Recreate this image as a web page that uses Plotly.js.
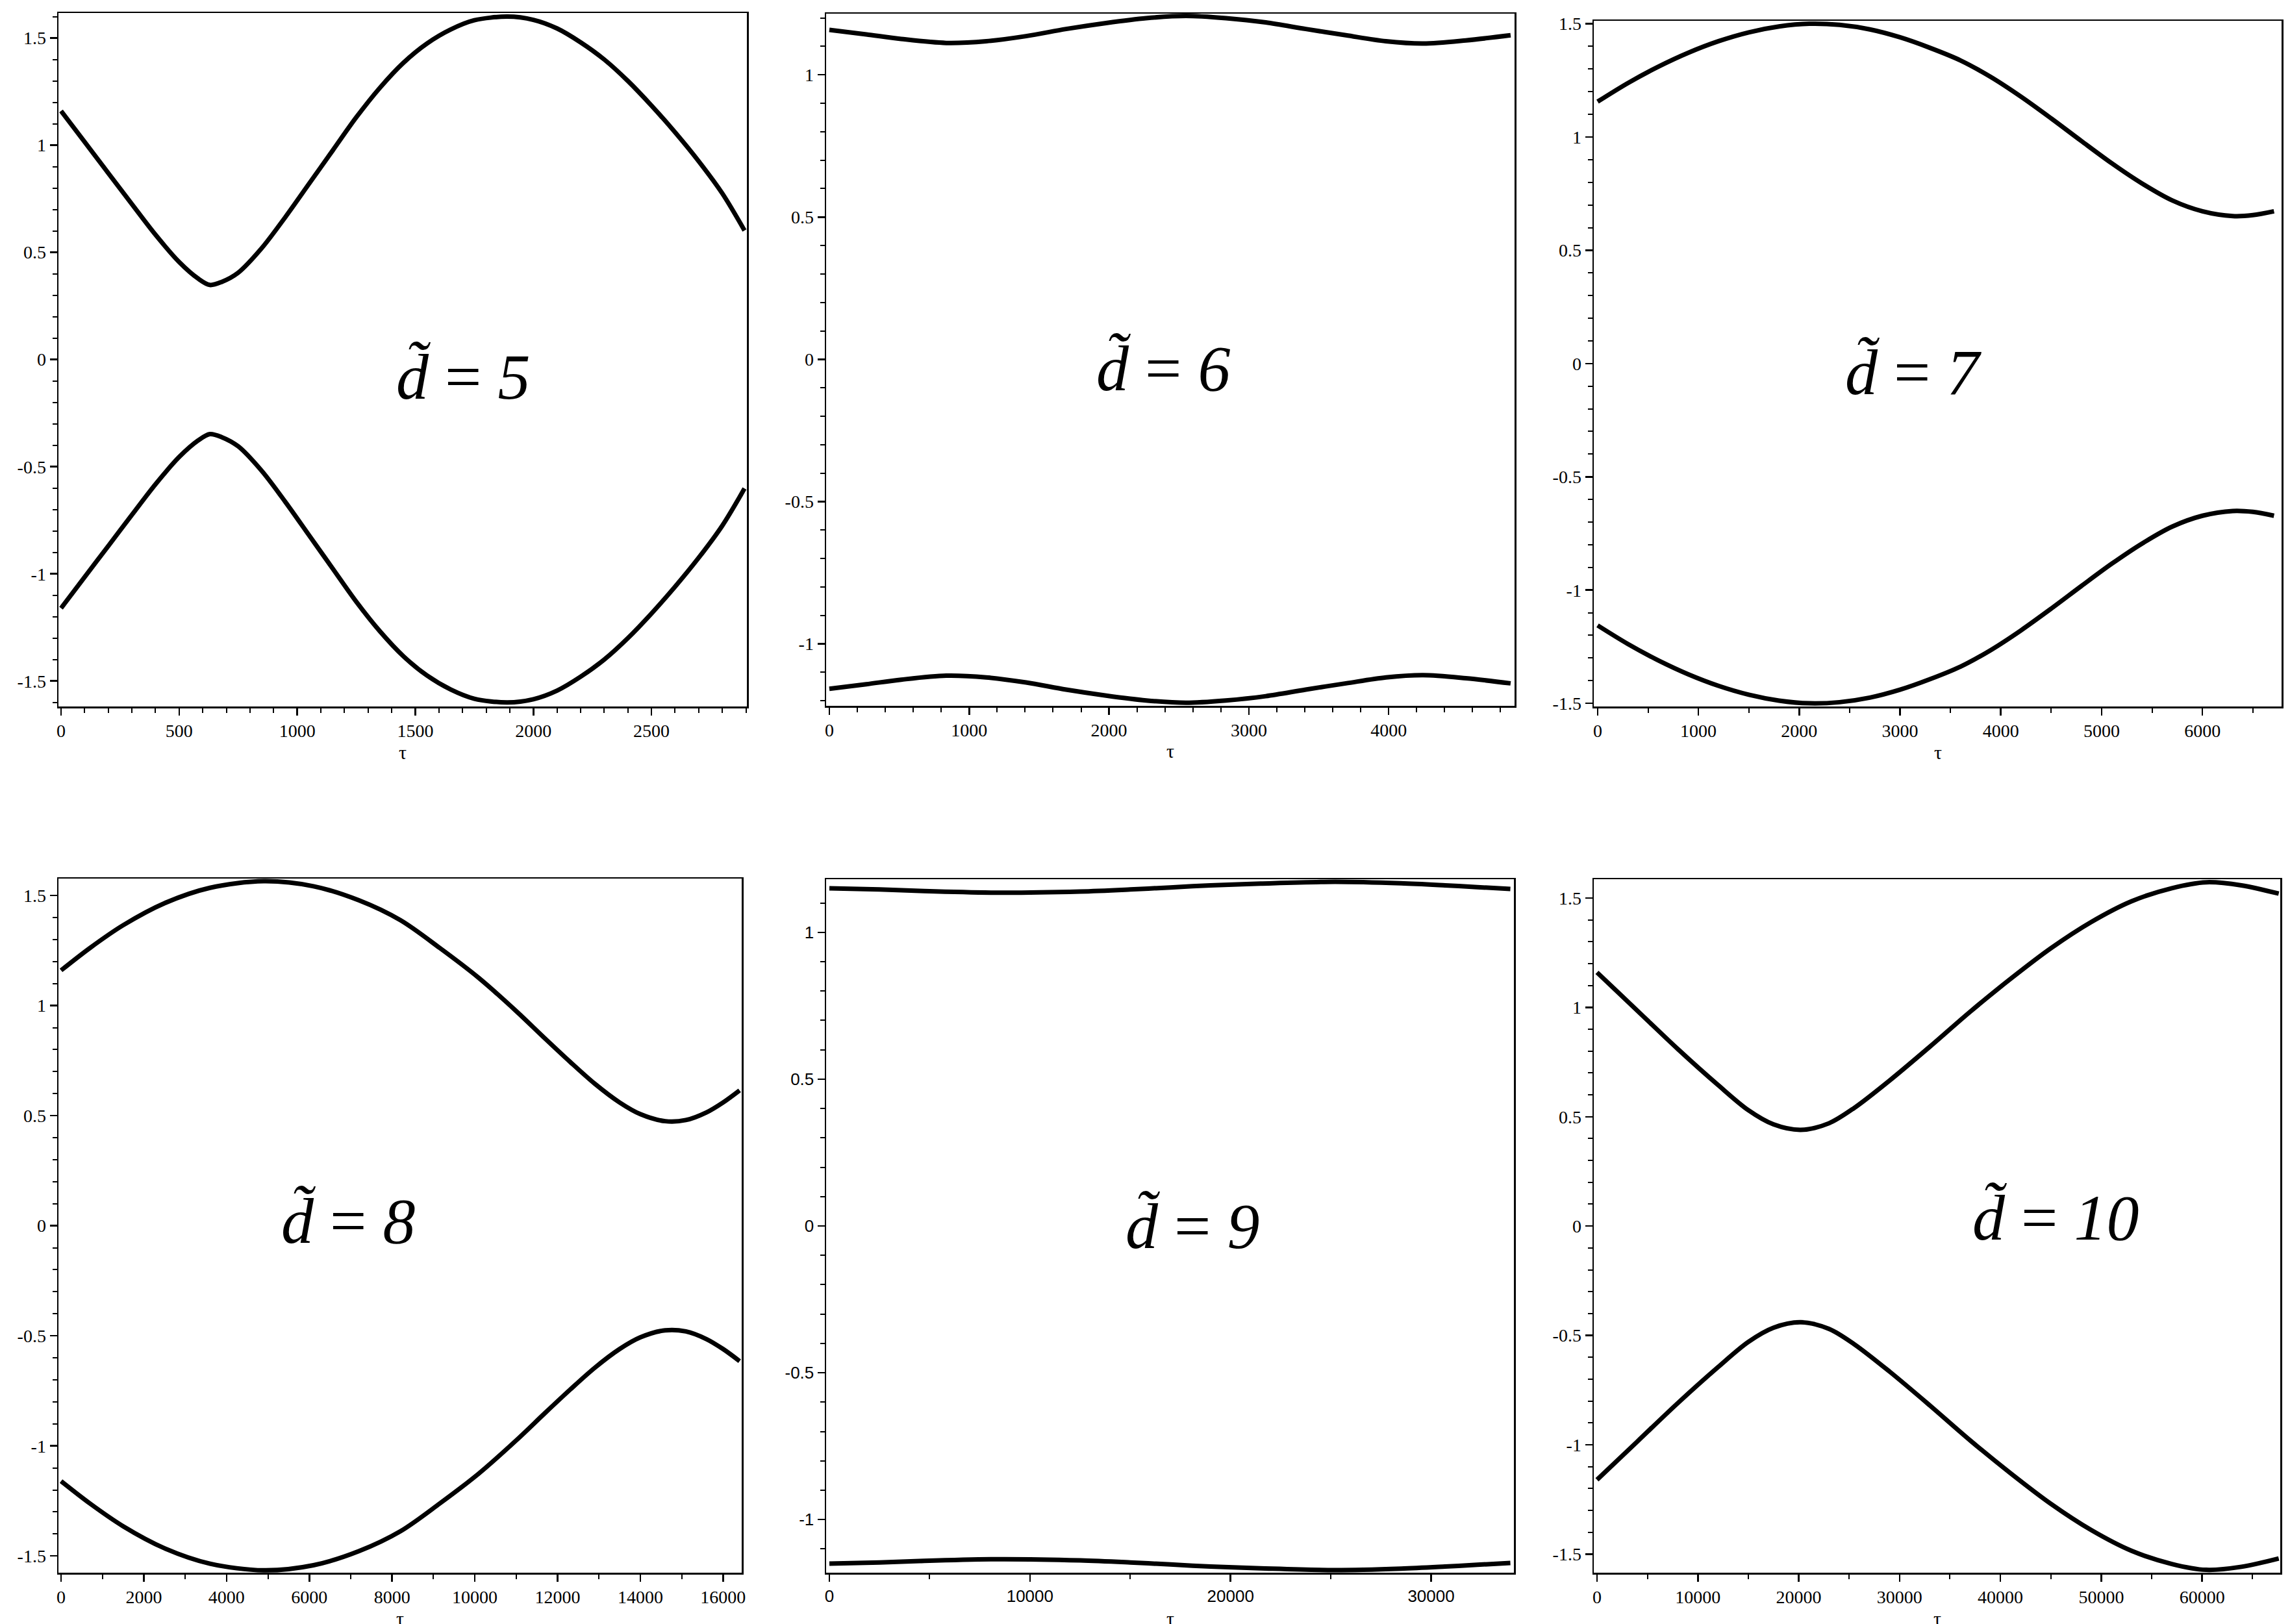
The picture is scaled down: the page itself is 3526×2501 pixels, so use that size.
<!DOCTYPE html>
<html>
<head>
<meta charset="utf-8">
<script src="https://cdn.plot.ly/plotly-3.0.1.min.js"></script>
<style>
  html, body { margin: 0; padding: 0; background: #ffffff; }
  #chart { width: 3526px; height: 2501px; }
</style>
</head>
<body>
<div id="chart"></div>
<script>
// ---------------- DATA ----------------
// d~ = 5
const tau5 = [0, 100, 200, 300, 400, 500, 580, 630, 680, 750, 850, 950, 1050, 1150, 1250, 1350, 1450, 1550, 1650, 1750, 1890, 2000, 2100, 2200, 2300, 2400, 2500, 2600, 2700, 2800, 2894];
const upper5 = [1.160, 1.015, 0.870, 0.725, 0.582, 0.455, 0.378, 0.348, 0.362, 0.405, 0.520, 0.665, 0.820, 0.975, 1.130, 1.268, 1.385, 1.475, 1.540, 1.583, 1.600, 1.585, 1.545, 1.480, 1.400, 1.300, 1.185, 1.060, 0.925, 0.775, 0.602];
const lower5 = [-1.160, -1.015, -0.870, -0.725, -0.582, -0.455, -0.378, -0.348, -0.362, -0.405, -0.520, -0.665, -0.820, -0.975, -1.130, -1.268, -1.385, -1.475, -1.540, -1.583, -1.600, -1.585, -1.545, -1.480, -1.400, -1.300, -1.185, -1.060, -0.925, -0.775, -0.602];

// d~ = 6
const tau6 = [0, 264, 514, 836, 1122, 1407, 1693, 1979, 2265, 2550, 2836, 3121, 3407, 3694, 3980, 4247, 4552, 4872];
const upper6 = [1.158, 1.142, 1.126, 1.112, 1.118, 1.136, 1.161, 1.182, 1.199, 1.207, 1.199, 1.184, 1.161, 1.139, 1.118, 1.110, 1.121, 1.139];
const lower6 = [-1.158, -1.142, -1.126, -1.112, -1.118, -1.136, -1.161, -1.182, -1.199, -1.207, -1.199, -1.184, -1.161, -1.139, -1.118, -1.110, -1.121, -1.139];

// d~ = 7
const tau7 = [0, 300, 600, 900, 1200, 1500, 1800, 2100, 2400, 2700, 3000, 3300, 3600, 3900, 4200, 4500, 4800, 5100, 5400, 5700, 6000, 6300, 6500, 6710];
const upper7 = [1.156, 1.238, 1.310, 1.372, 1.423, 1.462, 1.488, 1.500, 1.495, 1.475, 1.440, 1.393, 1.338, 1.265, 1.178, 1.082, 0.982, 0.884, 0.795, 0.720, 0.672, 0.651, 0.655, 0.672];
const lower7 = [-1.156, -1.238, -1.310, -1.372, -1.423, -1.462, -1.488, -1.500, -1.495, -1.475, -1.440, -1.393, -1.338, -1.265, -1.178, -1.082, -0.982, -0.884, -0.795, -0.720, -0.672, -0.651, -0.655, -0.672];

// d~ = 8
const tau8 = [0, 700, 1500, 2500, 3600, 4900, 6100, 7200, 8200, 9150, 10100, 11000, 11700, 12300, 12900, 13500, 14000, 14600, 15100, 15600, 16000, 16400];
const upper8 = [1.160, 1.262, 1.365, 1.465, 1.535, 1.565, 1.542, 1.478, 1.388, 1.262, 1.125, 0.975, 0.850, 0.745, 0.645, 0.560, 0.507, 0.475, 0.480, 0.515, 0.560, 0.615];
const lower8 = [-1.160, -1.262, -1.365, -1.465, -1.535, -1.565, -1.542, -1.478, -1.388, -1.262, -1.125, -0.975, -0.850, -0.745, -0.645, -0.560, -0.507, -0.475, -0.480, -0.515, -0.560, -0.615];

// d~ = 9
const tau9 = [0, 2500, 4500, 8400, 12500, 15000, 17000, 19000, 21500, 25200, 28500, 30700, 32300, 33950];
const upper9 = [1.150, 1.146, 1.141, 1.135, 1.139, 1.146, 1.153, 1.160, 1.166, 1.172, 1.167, 1.160, 1.154, 1.148];
const lower9 = [-1.150, -1.146, -1.141, -1.135, -1.139, -1.146, -1.153, -1.160, -1.166, -1.172, -1.167, -1.160, -1.154, -1.148];

// d~ = 10
const tau10 = [0, 4000, 8000, 12000, 15000, 17500, 20200, 23000, 25500, 29000, 33000, 37000, 41000, 45000, 49000, 53000, 57000, 60400, 63900, 67600];
const upper10 = [1.160, 0.985, 0.810, 0.645, 0.530, 0.465, 0.440, 0.470, 0.540, 0.665, 0.820, 0.980, 1.130, 1.270, 1.390, 1.485, 1.545, 1.572, 1.558, 1.520];
const lower10 = [-1.160, -0.985, -0.810, -0.645, -0.530, -0.465, -0.440, -0.470, -0.540, -0.665, -0.820, -0.980, -1.130, -1.270, -1.390, -1.485, -1.545, -1.572, -1.558, -1.520];

// panel labels
const panelLabels = ['5', '6', '7', '8', '9', '10'];
const xTitle = 'τ';

// tick values / labels
const xTicks5 = [0, 500, 1000, 1500, 2000, 2500];
const xTicks6 = [0, 1000, 2000, 3000, 4000];
const xTicks7 = [0, 1000, 2000, 3000, 4000, 5000, 6000];
const xTicks8 = [0, 2000, 4000, 6000, 8000, 10000, 12000, 14000, 16000];
const xTicks9 = [0, 10000, 20000, 30000];
const xTicks10 = [0, 10000, 20000, 30000, 40000, 50000, 60000];
const yTicksA = [-1.5, -1, -0.5, 0, 0.5, 1, 1.5];
const yTickTextA = ['-1.5', '-1', '-0.5', '0', '0.5', '1', '1.5'];
const yTicksB = [-1, -0.5, 0, 0.5, 1];
const yTickTextB = ['-1', '-0.5', '0', '0.5', '1'];

// ---------------- LAYOUT (pixel geometry of the reference) ----------------
const W = 3526, H = 2501;
const fx = p => p / W;
const fy = p => 1 - p / H;

const panels = [
  { tau: tau5,  up: upper5,  lo: lower5,  box: [90, 1150, 20, 1088],    xr: [-11, 2904],   yr: [-1.619, 1.617], xt: xTicks5,  xminor: 100,  yt: yTicksA, ytt: yTickTextA, label: panelLabels[0], lab: [713, 580],  font: 'Liberation Serif', fs: 28 },
  { tau: tau6,  up: upper6,  lo: lower6,  box: [1272, 2332, 21, 1087],  xr: [-23, 4900],   yr: [-1.218, 1.215], xt: xTicks6,  xminor: 200,  yt: yTicksB, ytt: yTickTextB, label: panelLabels[1], lab: [1791, 568], font: 'Liberation Serif', fs: 28 },
  { tau: tau7,  up: upper7,  lo: lower7,  box: [2454, 3513, 32, 1088],  xr: [-38, 6785],   yr: [-1.514, 1.513], xt: xTicks7,  xminor: 500,  yt: yTicksA, ytt: yTickTextA, label: panelLabels[2], lab: [2946, 573], font: 'Liberation Serif', fs: 28 },
  { tau: tau8,  up: upper8,  lo: lower8,  box: [90, 1142, 1353, 2422],  xr: [-63, 16450],  yr: [-1.576, 1.577], xt: xTicks8,  xminor: 1000, yt: yTicksA, ytt: yTickTextA, label: panelLabels[3], lab: [536, 1880], font: 'Liberation Serif', fs: 28 },
  { tau: tau9,  up: upper9,  lo: lower9,  box: [1272, 2331, 1354, 2422], xr: [-162, 34126], yr: [-1.181, 1.181], xt: xTicks9,  xminor: 5000, yt: yTicksB, ytt: yTickTextB, label: panelLabels[4], lab: [1836, 1888], font: 'Liberation Sans', fs: 26 },
  { tau: tau10, up: upper10, lo: lower10, box: [2454, 3511, 1354, 2422], xr: [-320, 67750], yr: [-1.585, 1.586], xt: xTicks10, xminor: 5000, yt: yTicksA, ytt: yTickTextA, label: panelLabels[5], lab: [3165, 1876], font: 'Liberation Serif', fs: 28 }
];

const traces = [];
const layout = {
  width: W, height: H,
  margin: { l: 0, r: 0, t: 0, b: 0, pad: 0 },
  paper_bgcolor: '#ffffff',
  plot_bgcolor: '#ffffff',
  showlegend: false,
  annotations: []
};

panels.forEach((p, i) => {
  const n = i + 1;
  const xa = 'x' + (n === 1 ? '' : n);
  const ya = 'y' + (n === 1 ? '' : n);
  const lineStyle = { color: '#000000', width: 7, shape: 'spline', smoothing: 0.9 };
  traces.push({ type: 'scatter', mode: 'lines', x: p.tau, y: p.up, xaxis: xa, yaxis: ya, line: lineStyle, hoverinfo: 'skip' });
  traces.push({ type: 'scatter', mode: 'lines', x: p.tau, y: p.lo, xaxis: xa, yaxis: ya, line: lineStyle, hoverinfo: 'skip' });

  const common = {
    showline: true, mirror: true, linecolor: '#000000', linewidth: 2.5,
    ticks: 'outside', ticklen: 11, tickwidth: 2.5, tickcolor: '#000000',
    showgrid: false, zeroline: false, fixedrange: true,
    tickfont: { family: p.font, size: p.fs, color: '#000000' }
  };
  layout['xaxis' + (n === 1 ? '' : n)] = Object.assign({}, common, {
    domain: [fx(p.box[0]), fx(p.box[1])],
    anchor: ya, range: p.xr,
    tickmode: 'array', tickvals: p.xt, ticktext: p.xt.map(String),
    minor: { ticks: 'outside', ticklen: 7, tickwidth: 2, tickcolor: '#000000', tickmode: 'linear', tick0: 0, dtick: p.xminor, showgrid: false }
  });
  layout['yaxis' + (n === 1 ? '' : n)] = Object.assign({}, common, {
    domain: [fy(p.box[3]), fy(p.box[2])],
    anchor: xa, range: p.yr,
    tickmode: 'array', tickvals: p.yt, ticktext: p.ytt,
    minor: { ticks: 'outside', ticklen: 7, tickwidth: 2, tickcolor: '#000000', tickmode: 'linear', tick0: 0, dtick: 0.1, showgrid: false }
  });

  // panel label  d~ = k
  layout.annotations.push({
    xref: 'paper', yref: 'paper', x: fx(p.lab[0]), y: fy(p.lab[1]),
    xanchor: 'center', yanchor: 'middle', showarrow: false,
    text: '<i>d\u0303</i> = <i>' + p.label + '</i>',
    font: { family: 'Liberation Serif', size: 100, color: '#000000' }
  });
  // axis title tau
  layout.annotations.push({
    xref: 'paper', yref: 'paper', x: fx((p.box[0] + p.box[1]) / 2), y: fy(p.box[3] + 70),
    xanchor: 'center', yanchor: 'middle', showarrow: false,
    text: xTitle,
    font: { family: 'Liberation Serif', size: 30, color: '#000000' }
  });
});

Plotly.newPlot('chart', traces, layout, { staticPlot: true, displayModeBar: false });
</script>
</body>
</html>
